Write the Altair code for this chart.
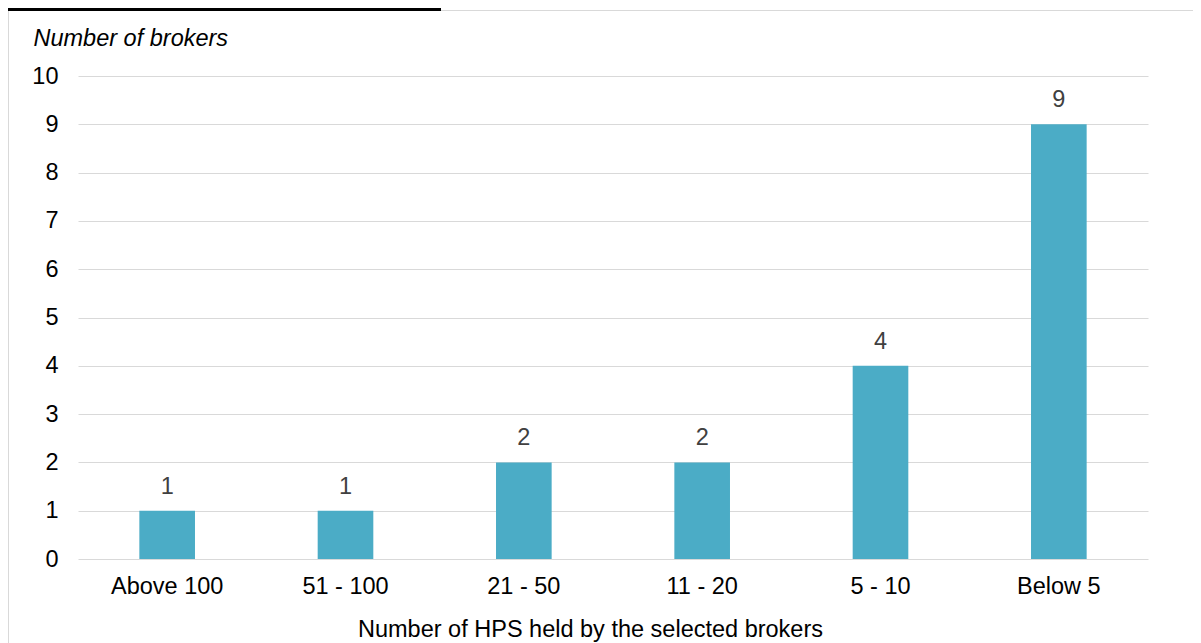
import altair as alt
import pandas as pd

categories = ["Above 100", "51 - 100", "21 - 50", "11 - 20", "5 - 10", "Below 5"]
values = [1, 1, 2, 2, 4, 9]
y_ticks = [0, 1, 2, 3, 4, 5, 6, 7, 8, 9, 10]

FONT = "Liberation Sans"
FS = 23.5
df = pd.DataFrame({"cat": categories, "n": values})

x_enc = alt.X(
    "cat:N",
    sort=categories,
    scale=alt.Scale(paddingInner=0.688, paddingOuter=0.344),
    axis=alt.Axis(
        title="Number of HPS held by the selected brokers",
        labelAngle=0,
        labelFont=FONT,
        labelFontSize=FS,
        labelColor="#000000",
        labelPadding=15,
        ticks=False,
        domain=False,
        titleFont=FONT,
        titleFontSize=FS,
        titleFontWeight="normal",
        titleColor="#000000",
        titleX=512,
        titleY=77,
        titleAlign="center",
        titleBaseline="alphabetic",
    ),
)
y_enc = alt.Y(
    "n:Q",
    scale=alt.Scale(domain=[0, 10]),
    axis=alt.Axis(
        values=y_ticks,
        title="Number of brokers",
        titleAngle=0,
        titleX=-45,
        titleY=-31,
        titleAlign="left",
        titleBaseline="alphabetic",
        titleFont=FONT,
        titleFontSize=FS,
        titleFontStyle="italic",
        titleFontWeight="normal",
        titleColor="#000000",
        labelFont=FONT,
        labelFontSize=FS,
        labelColor="#000000",
        labelPadding=20,
        ticks=False,
        domain=False,
        grid=True,
        gridColor="#D9D9D9",
        gridWidth=1,
    ),
)

base = alt.Chart(df)
bars = base.mark_bar(color="#4BACC6").encode(x=x_enc, y=y_enc)
labels = base.mark_text(
    baseline="alphabetic", dy=-17, font=FONT, fontSize=FS, color="#404040"
).encode(x=alt.X("cat:N", sort=categories), y="n:Q", text="n:Q")

deco = alt.Chart(pd.DataFrame({"d": [0]}))
black_line = deco.mark_rule(color="#000000", strokeWidth=3).encode(
    x=alt.value(-70), x2=alt.value(363), y=alt.value(-66.5)
)
gray_top = deco.mark_rule(color="#D9D9D9", strokeWidth=1).encode(
    x=alt.value(363), x2=alt.value(1130), y=alt.value(-65.5)
)
gray_left = deco.mark_rule(color="#D9D9D9", strokeWidth=1).encode(
    x=alt.value(-69.5), y=alt.value(-66), y2=alt.value(580)
)

chart = (
    alt.layer(bars, labels, gray_top, gray_left, black_line)
    .properties(
        width=1070,
        height=483,
        autosize=alt.AutoSizeParams(type="none"),
        padding={"left": 70, "top": 68, "right": 45, "bottom": 84},
    )
    .configure_view(stroke=None)
)

chart.save("out.html", embed_options={"renderer": "svg", "actions": False})
